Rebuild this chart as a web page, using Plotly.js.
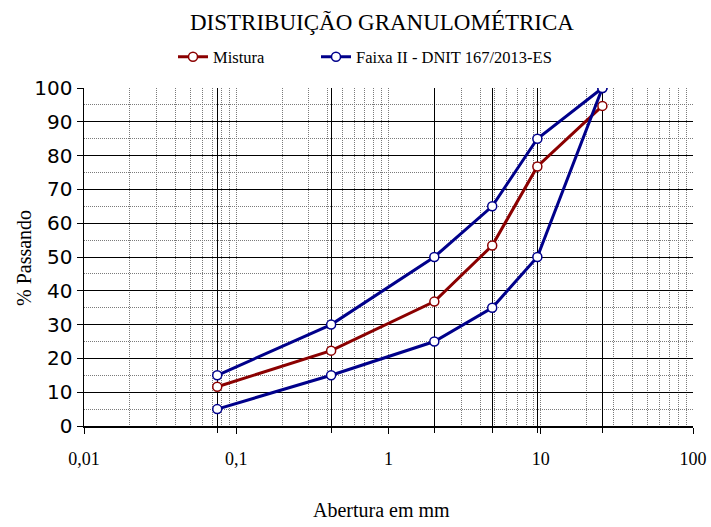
<!DOCTYPE html>
<html>
<head>
<meta charset="utf-8">
<script src="https://cdn.plot.ly/plotly-3.0.1.min.js"></script>
<style>
  html, body { margin: 0; padding: 0; background: #fff; }
  #chart { width: 711px; height: 527px; }
</style>
</head>
<body>
<div id="chart"></div>
<script>
// Peneiras (abertura em mm)
const sieves = [0.075, 0.42, 2.0, 4.8, 9.5, 25.4];
// % passando da mistura
const mistura = [11.6, 22.3, 36.8, 53.4, 76.8, 94.7];
// Limites da Faixa II - DNIT 167/2013-ES
const faixaSup = [15, 30, 50, 65, 85, 100];
const faixaInf = [5, 15, 25, 35, 50, 100];

// Eixo logarítmico: décadas e subdivisões
const decades = [0.01, 0.1, 1, 10, 100];
const decadeLabels = ['0,01', '0,1', '1', '10', '100'];
const minorVals = [];
[0.01, 0.1, 1, 10].forEach(d => { for (let k = 2; k <= 9; k++) minorVals.push(+(d * k).toPrecision(3)); });

const serif = 'Liberation Serif, Times New Roman, serif';
const sans = 'DejaVu Sans, Arial, sans-serif';
const red = '#8B0000';
const blue = '#00008B';
const gridGray = '#7a7a7a';
const dotted = '1px,1px';

// Área de plotagem (px) usada para posicionar os títulos dos eixos
const plotL = 84, plotR = 693, plotT = 88, plotB = 426;
const px2paperX = (px) => (px - plotL) / (plotR - plotL);
const px2paperY = (py) => (plotB - py) / (plotB - plotT);

// Faixa: sobe pelo limite superior e volta pelo inferior
const faixaX = sieves.concat(sieves.slice().reverse());
const faixaY = faixaSup.concat(faixaInf.slice().reverse());

const traces = [
  {
    x: sieves, y: mistura, name: 'Mistura', xaxis: 'x', yaxis: 'y', legend: 'legend',
    mode: 'lines+markers',
    line: { color: red, width: 3 },
    marker: { symbol: 'circle', size: 9, color: '#fff', line: { color: red, width: 1.5 } }
  },
  {
    x: faixaX, y: faixaY, name: 'Faixa II - DNIT 167/2013-ES', xaxis: 'x2', yaxis: 'y', legend: 'legend2',
    mode: 'lines+markers',
    line: { color: blue, width: 3 },
    marker: { symbol: 'circle', size: 9, color: '#fff', line: { color: blue, width: 1.5 } }
  }
];

const legendStyle = (xpx) => ({
  orientation: 'h',
  xref: 'container', x: xpx / 711, xanchor: 'left',
  yref: 'container', y: 1 - 57 / 527, yanchor: 'middle',
  font: { family: serif, size: 16.5, color: '#000' },
  bgcolor: 'rgba(0,0,0,0)', borderwidth: 0
});

const layout = {
  width: 711, height: 527,
  margin: { l: plotL, r: 711 - plotR, t: plotT, b: 527 - plotB },
  paper_bgcolor: '#fff', plot_bgcolor: '#fff',
  font: { family: serif, color: '#000' },
  title: {
    text: 'DISTRIBUIÇÃO GRANULOMÉTRICA',
    font: { family: serif, size: 23, color: '#000' },
    xref: 'container', x: 382 / 711, xanchor: 'center',
    yref: 'container', y: 1 - 22 / 527, yanchor: 'middle'
  },
  showlegend: true,
  legend: legendStyle(173),
  legend2: legendStyle(316),
  xaxis: {
    type: 'log', range: [-2, 2],
    tickmode: 'array', tickvals: decades, ticktext: decadeLabels,
    tickfont: { family: serif, size: 18, color: '#000' },
    ticks: 'outside', ticklen: 6, tickwidth: 1, tickcolor: '#000',
    ticklabelstandoff: 10,
    showline: true, linecolor: '#000', linewidth: 1.5,
    showgrid: true, gridcolor: gridGray, gridwidth: 1, griddash: dotted,
    minor: {
      tickmode: 'array', tickvals: minorVals, ticks: '',
      showgrid: true, gridcolor: gridGray, gridwidth: 1, griddash: dotted
    },
    zeroline: false,
    automargin: false, fixedrange: true
  },
  // Linhas das peneiras sobre a mesma escala
  xaxis2: {
    type: 'log', range: [-2, 2], overlaying: 'x', anchor: 'y', side: 'bottom',
    tickmode: 'array', tickvals: sieves, showticklabels: false,
    ticks: 'outside', ticklen: 6, tickwidth: 1, tickcolor: '#000',
    showline: false,
    showgrid: true, gridcolor: '#000', gridwidth: 1,
    zeroline: false, automargin: false, fixedrange: true
  },
  yaxis: {
    range: [0, 100], tickmode: 'linear', tick0: 0, dtick: 10,
    tickfont: { family: sans, size: 20, color: '#000' },
    ticks: 'outside', ticklen: 6, tickwidth: 1, tickcolor: '#000',
    showline: true, linecolor: '#000', linewidth: 1.5,
    showgrid: true, gridcolor: '#000', gridwidth: 1,
    minor: { dtick: 5, ticks: '', showgrid: true, gridcolor: gridGray, gridwidth: 1, griddash: dotted },
    zeroline: false,
    automargin: false, fixedrange: true
  },
  // Títulos dos eixos
  annotations: [
    {
      text: 'Abertura em mm', showarrow: false,
      xref: 'paper', x: px2paperX(381), xanchor: 'center',
      yref: 'paper', y: px2paperY(510), yanchor: 'middle',
      font: { family: serif, size: 20, color: '#000' }
    },
    {
      text: '% Passando', showarrow: false, textangle: -90,
      xref: 'paper', x: px2paperX(24), xanchor: 'center',
      yref: 'paper', y: px2paperY(258), yanchor: 'middle',
      font: { family: serif, size: 20, color: '#000' }
    }
  ]
};

Plotly.newPlot('chart', traces, layout, { staticPlot: true, displayModeBar: false });
</script>
</body>
</html>
